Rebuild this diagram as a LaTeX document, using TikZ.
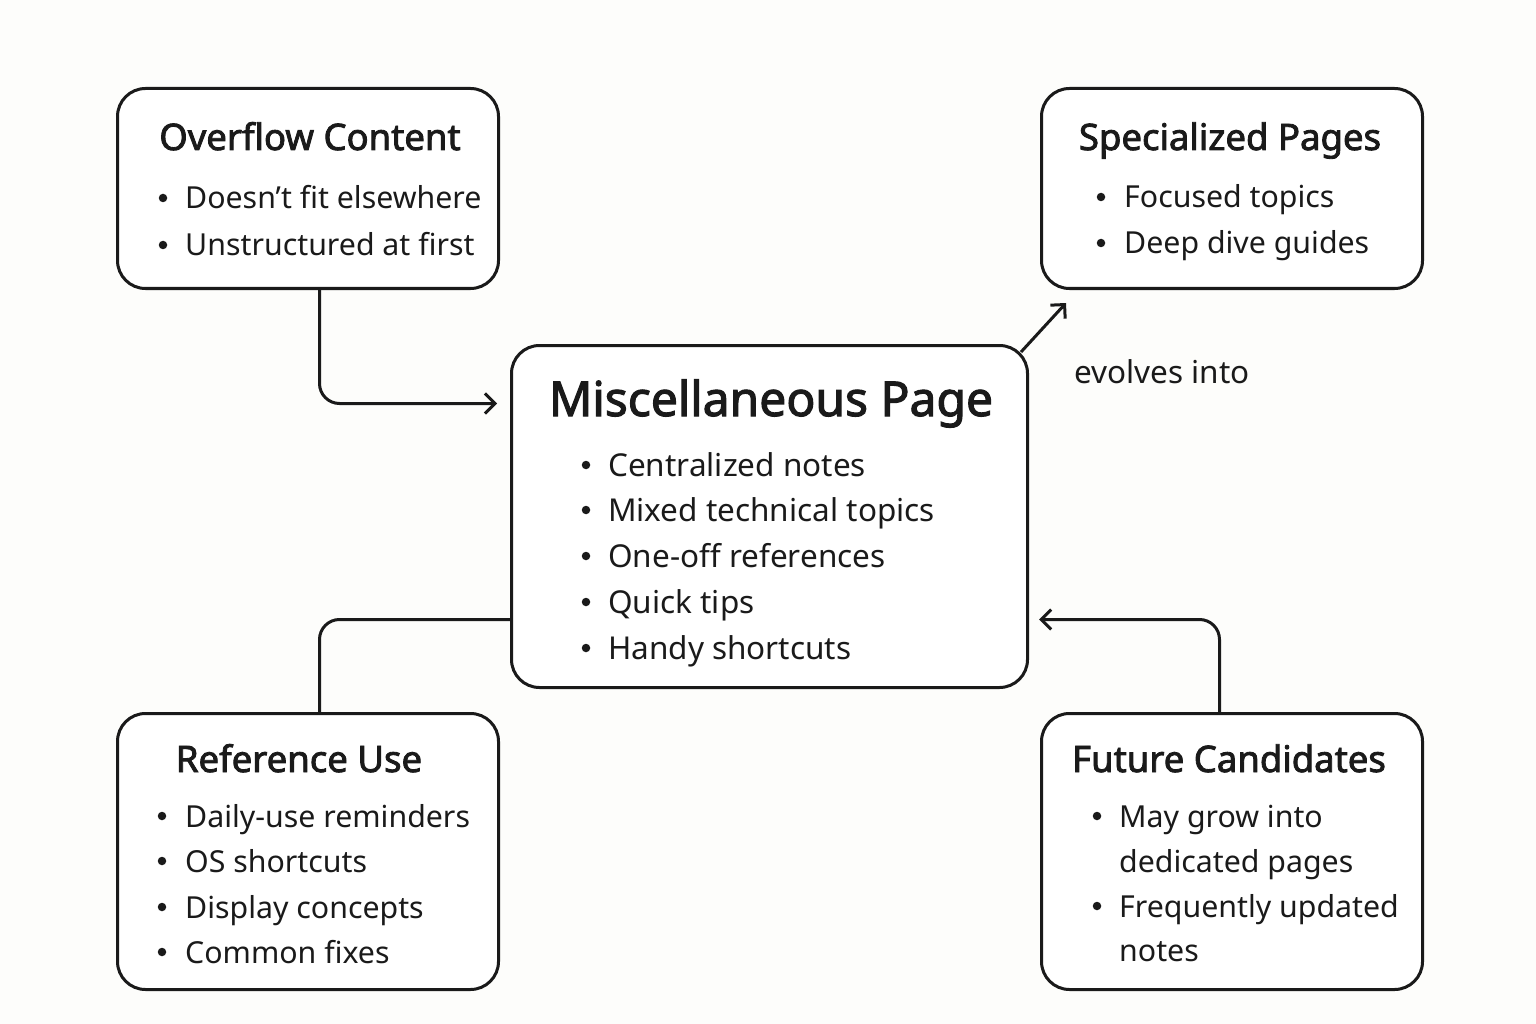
\documentclass[tikz,border=0pt]{standalone}
\usepackage{fontspec}
\setmainfont{Noto Sans}
\newfontfamily\headfont{Noto Sans}[FakeBold=2.3]
\usetikzlibrary{arrows.meta}
\definecolor{ink}{HTML}{1A1A1A}
\definecolor{paper}{HTML}{FDFDFB}
\begin{document}
\begin{tikzpicture}[x=1pt,y=-1pt,
  card/.style={draw=ink,line width=3pt,rounded corners=28pt,fill=white,inner sep=0pt,anchor=north west},
  title/.style={text=ink,font=\headfont\fontsize{36.5}{42}\selectfont,anchor=base,inner sep=0pt},
  bigtitle/.style={text=ink,font=\headfont\fontsize{48}{55}\selectfont,anchor=base,inner sep=0pt},
  item/.style={text=ink,font=\fontsize{30.3}{35}\selectfont,anchor=base west,inner sep=0pt},
  bigitem/.style={text=ink,font=\fontsize{31.5}{36}\selectfont,anchor=base west,inner sep=0pt},
  dot/.style={circle,fill=ink,inner sep=0pt,minimum size=8.5pt},
  link/.style={draw=ink,line width=3pt,rounded corners=20pt},
  tip/.style={-{Straight Barb[length=10pt,width=20pt,line width=3pt]}}]
\useasboundingbox[fill=paper] (0,0) rectangle (1536,1024);

% boxes
\node[card,minimum width=381pt,minimum height=200pt] (ovf) at (116,87) {};
\node[card,minimum width=381pt,minimum height=200pt] (spec) at (1040,87) {};
\node[card,minimum width=516pt,minimum height=342pt] (misc) at (510,344) {};
\node[card,minimum width=381pt,minimum height=276pt] (ref) at (116,712) {};
\node[card,minimum width=381pt,minimum height=276pt] (fut) at (1040,712) {};

% Overflow Content
\node[title] (ovfT) at (310,150) {Overflow Content};
\node[dot] (ovfd1) at (163,198) {}; \node[item] (ovf1) at (185,209) {Doesn’t fit elsewhere};
\node[dot] (ovfd2) at (163,245) {}; \node[item] (ovf2) at (185,256) {Unstructured at first};

% Specialized Pages
\node[title] (specT) at (1230,150) {Specialized Pages};
\node[dot] (specd1) at (1101,197) {}; \node[item] (spec1) at (1124,208) {Focused topics};
\node[dot] (specd2) at (1101,243) {}; \node[item] (spec2) at (1124,254) {Deep dive guides};

% Miscellaneous Page
\node[bigtitle] (miscT) at (771,416) {Miscellaneous Page};
\node[dot] (miscd1) at (586,465) {}; \node[bigitem] (misc1) at (608,476) {Centralized notes};
\node[dot] (miscd2) at (586,510) {}; \node[bigitem] (misc2) at (608,521) {Mixed technical topics};
\node[dot] (miscd3) at (586,556) {}; \node[bigitem] (misc3) at (608,567) {One-off references};
\node[dot] (miscd4) at (586,602) {}; \node[bigitem] (misc4) at (608,613) {Quick tips};
\node[dot] (miscd5) at (586,648) {}; \node[bigitem] (misc5) at (608,659) {Handy shortcuts};

% Reference Use
\node[title] (refT) at (299,772) {Reference Use};
\node[dot] (refd1) at (162,816) {}; \node[item] (ref1) at (185,827) {Daily-use reminders};
\node[dot] (refd2) at (162,861) {}; \node[item] (ref2) at (185,872) {OS shortcuts};
\node[dot] (refd3) at (162,907) {}; \node[item] (ref3) at (185,918) {Display concepts};
\node[dot] (refd4) at (162,952) {}; \node[item] (ref4) at (185,963) {Common fixes};

% Future Candidates
\node[title] (futT) at (1229,772) {Future Candidates};
\node[dot] (futd1) at (1097,816) {}; \node[item] (fut1) at (1119,827) {May grow into};
\node[item] (fut1b) at (1119,872) {dedicated pages};
\node[dot] (futd2) at (1097,906) {}; \node[item] (fut2) at (1119,917) {Frequently updated};
\node[item] (fut2b) at (1119,961) {notes};

% label
\node[item,font=\fontsize{31.5}{36}\selectfont] (evo) at (1074,383) {evolves into};

% connectors
\coordinate (evoStart) at ([xshift=-8pt,yshift=-8pt]misc.north east);
\coordinate (evoEnd) at ([xshift=26pt,yshift=-13pt]spec.south west);
\draw[link,tip] ([xshift=11.5pt]ovf.south) |- ([xshift=-13pt,yshift=113pt]misc.west);
\draw[link] ([yshift=-103pt]misc.west) -| ([xshift=11.5pt]ref.north);
\draw[link,tip] ([xshift=-12.5pt]fut.north) |- ([xshift=10pt,yshift=-103pt]misc.east);
\draw[link,tip] (evoStart) -- (evoEnd);
\end{tikzpicture}
\end{document}
